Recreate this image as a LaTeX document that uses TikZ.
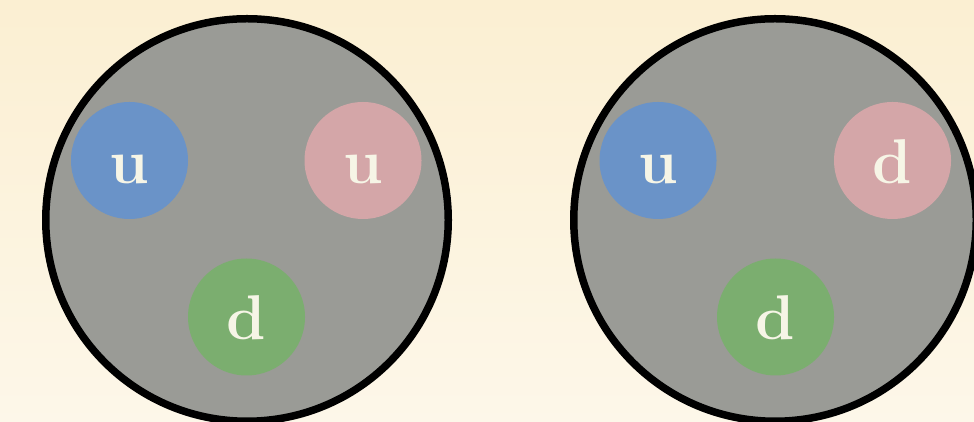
\documentclass[tikz,border=0pt]{standalone}
\usepackage{tikz}
\usetikzlibrary{positioning}
\definecolor{bgtop}{HTML}{FBEFD2}
\definecolor{bgbot}{HTML}{FDF7E9}
\definecolor{hadron}{HTML}{9A9B96}
\definecolor{qblue}{HTML}{6A93C8}
\definecolor{qpink}{HTML}{D4A6A8}
\definecolor{qgreen}{HTML}{7BAE6F}
\definecolor{qtext}{HTML}{F6F5E6}
\newcommand{\quarkfont}{\fontsize{18}{20}\selectfont\bfseries}

\begin{document}
\begin{tikzpicture}[
  every node/.style={font=\quarkfont},
  baryon/.style={draw=black,circle,line width=0.075cm,fill=hadron,minimum size=4.025cm,inner sep=0pt},
  quark/.style={circle,minimum size=1.17cm,inner sep=0pt,text=qtext,text height=0.46cm,text depth=0pt},
]
\useasboundingbox (0,0) rectangle (9.74,4.22);
\clip (0,0) rectangle (9.74,4.22);
\shade[top color=bgtop,bottom color=bgbot] (0,0) rectangle (9.74,4.22);

% proton
\node[baryon] (pL) at (2.47,2.02) {};
\node[quark,fill=qblue] (pu1) at (1.295,2.615) {u};
\node[quark,fill=qpink] (pu2) at (3.63,2.615) {u};
\node[quark,fill=qgreen] (pd) at (2.465,1.05) {d};

% neutron
\node[baryon] (nR) at (7.75,2.02) {};
\node[quark,fill=qblue] (nu) at (6.58,2.615) {u};
\node[quark,fill=qpink] (nd1) at (8.925,2.615) {d};
\node[quark,fill=qgreen] (nd2) at (7.755,1.05) {d};

\end{tikzpicture}
\end{document}
